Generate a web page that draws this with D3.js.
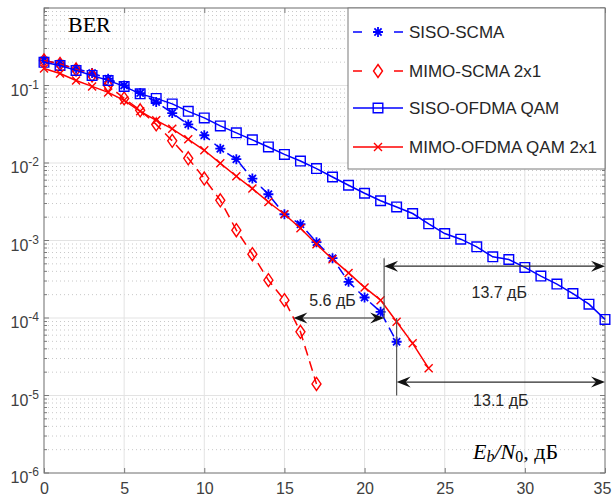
<!DOCTYPE html>
<html>
<head>
<meta charset="utf-8">
<script src="https://cdn.jsdelivr.net/npm/d3@7"></script>
<style>
body { margin: 0; background: #fff; }
</style>
</head>
<body>
<div id="visual" style="width:612px;height:500px"></div>
<script>
// Eb/N0 grid, dB
var snr = [0, 1, 2, 3, 4, 5, 6, 7, 8, 9, 10, 11, 12, 13, 14, 15, 16, 17, 18, 19,
    20, 21, 22, 23, 24, 25, 26, 27, 28, 29, 30, 31, 32, 33, 34, 35];

var berSisoScma = [0.211, 0.191, 0.1645, 0.1445, 0.1224, 0.1003, 0.0798, 0.0611, 0.0441, 0.0315,
    0.0228, 0.0153, 0.0112, 0.0063, 0.00395, 0.00218, 0.00162, 0.000951, 0.000591, 0.000293,
    0.000184, 0.00012, 0.0000494];
var berMimoScma = [0.211, 0.19, 0.161, 0.135, 0.100, 0.0682, 0.0478, 0.0315, 0.0193, 0.0115,
    0.0063, 0.0033, 0.00136, 0.000666, 0.000308, 0.00017, 0.0000664, 0.0000141];
var berSisoOfdma = [0.199, 0.1815, 0.1567, 0.1349, 0.1164, 0.0973, 0.078, 0.0682, 0.0579, 0.0464,
    0.0382, 0.0301, 0.0245, 0.0199, 0.0161, 0.0129, 0.0106, 0.00847, 0.0066, 0.00516,
    0.00407, 0.00326, 0.00271, 0.00223, 0.00164, 0.00123, 0.00104, 0.000828, 0.000615, 0.000569,
    0.000449, 0.000347, 0.000274, 0.000207, 0.000151, 0.0000959];
var berMimoOfdma = [0.166, 0.143, 0.116, 0.0973, 0.0815, 0.0643, 0.0464, 0.0355, 0.0276, 0.0202,
    0.0146, 0.0099, 0.00674, 0.00468, 0.00314, 0.00218, 0.00144, 0.000896, 0.000574, 0.000382,
    0.000248, 0.00017, 0.0000893, 0.0000471, 0.0000224];

var seriesNames = ['SISO-SCMA', 'MIMO-SCMA 2x1', 'SISO-OFDMA QAM', 'MIMO-OFDMA QAM 2x1'];

var xTicks = [0, 5, 10, 15, 20, 25, 30, 35];
var yTickExp = [-6, -5, -4, -3, -2, -1, 0];

// gap annotations (dB span at a given BER)
var gapLabels = ['5.6 дБ', '13.7 дБ', '13.1 дБ'];
var gapFrom = [15.56, 21.22, 22.0];
var gapTo = [21.22, 35, 35];
var gapBer = [1e-4, 4.67e-4, 1.49e-5];
var gapLabelX = [18.0, 28.4, 28.5];
var gapLabelBer = [1.7e-4, 2.16e-4, 8.75e-6];
var markX = [21.22, 22.0];
var markTop = [5.9e-4, 1e-4];
var markBottom = [1e-4, 1e-5];

var W = 612, H = 500;
var margin = { top: 8, right: 7, bottom: 27, left: 44 };
var width = W - margin.left - margin.right;
var height = H - margin.top - margin.bottom;

var svg = d3.select('#visual')
    .append('svg')
    .attr('width', W)
    .attr('height', H)
    .append('g')
    .attr('transform', 'translate(' + margin.left + ',' + margin.top + ')');

var x_scale = d3.scaleLinear().domain([0, 35]).range([0, width]);
var y_scale = d3.scaleLog().domain([1e-6, 1]).range([height, 0]);

var minorVals = [];
yTickExp.slice(0, -1).forEach(function (e) {
    for (var k = 2; k <= 9; k++) minorVals.push(k * Math.pow(10, e));
});
var majorVals = yTickExp.map(function (e) { return Math.pow(10, e); });

// grid
svg.append('g').selectAll('line').data(minorVals).enter().append('line')
    .attr('x1', 0).attr('x2', width)
    .attr('y1', function (d) { return y_scale(d); })
    .attr('y2', function (d) { return y_scale(d); })
    .attr('stroke', '#c8c8c8').attr('stroke-width', 1)
    .attr('stroke-dasharray', '1,3');
svg.append('g').selectAll('line').data(majorVals).enter().append('line')
    .attr('x1', 0).attr('x2', width)
    .attr('y1', function (d) { return y_scale(d); })
    .attr('y2', function (d) { return y_scale(d); })
    .attr('stroke', '#e3e3e3').attr('stroke-width', 1);
svg.append('g').selectAll('line').data(xTicks).enter().append('line')
    .attr('y1', 0).attr('y2', height)
    .attr('x1', function (d) { return x_scale(d); })
    .attr('x2', function (d) { return x_scale(d); })
    .attr('stroke', '#e3e3e3').attr('stroke-width', 1);

// axes, ticks pointing inward on all four sides
var axisCol = '#7a7a7a';
var x_axis = d3.axisBottom(x_scale).tickValues(xTicks).tickSize(-5).tickPadding(10)
    .tickFormat(d3.format('d'));
var gx = svg.append('g').attr('transform', 'translate(0,' + height + ')').call(x_axis);
gx.select('.domain').remove();
gx.selectAll('line').attr('stroke', axisCol);
gx.selectAll('text').attr('font-family', 'Liberation Sans, Arial, sans-serif')
    .attr('font-size', '16px').attr('fill', '#404040')
    .attr('dx', function (d) { return d === 35 ? -3 : 0; });

var gxt = svg.append('g').call(d3.axisTop(x_scale).tickValues(xTicks).tickSize(-5).tickFormat(''));
gxt.select('.domain').remove();
gxt.selectAll('line').attr('stroke', axisCol);

[0, width].forEach(function (xp, side) {
    var dir = side === 0 ? 1 : -1;
    var g = svg.append('g');
    g.selectAll('.mn').data(minorVals).enter().append('line')
        .attr('x1', xp).attr('x2', xp + dir * 3)
        .attr('y1', function (d) { return y_scale(d); })
        .attr('y2', function (d) { return y_scale(d); })
        .attr('stroke', axisCol);
    g.selectAll('.mj').data(majorVals).enter().append('line')
        .attr('x1', xp).attr('x2', xp + dir * 5)
        .attr('y1', function (d) { return y_scale(d); })
        .attr('y2', function (d) { return y_scale(d); })
        .attr('stroke', axisCol);
});

// y tick labels 10^e
var ylab = svg.append('g').selectAll('text').data(yTickExp.slice(0, -1)).enter().append('text')
    .attr('x', -5)
    .attr('y', function (d) { return y_scale(Math.pow(10, d)) + 10; })
    .attr('text-anchor', 'end')
    .attr('font-family', 'Liberation Sans, Arial, sans-serif')
    .attr('font-size', '16px')
    .attr('fill', '#404040');
ylab.append('tspan').text('10');
ylab.append('tspan').attr('dy', -7).attr('font-size', '12px').text(function (d) { return d; });

svg.append('rect').attr('width', width).attr('height', height)
    .attr('fill', 'none').attr('stroke', axisCol).attr('stroke-width', 1);

// curves
var series = [
    { name: seriesNames[0], ber: berSisoScma, color: '#0000ff', dash: '10,6', mark: 'star' },
    { name: seriesNames[1], ber: berMimoScma, color: '#ff0000', dash: '10,6', mark: 'diamond' },
    { name: seriesNames[2], ber: berSisoOfdma, color: '#0000ff', dash: null, mark: 'square' },
    { name: seriesNames[3], ber: berMimoOfdma, color: '#ff0000', dash: null, mark: 'cross' }
];

var line = d3.line()
    .x(function (d) { return x_scale(d[0]); })
    .y(function (d) { return y_scale(d[1]); });

function markerPath(type) {
    if (type === 'star') return 'M-5,0H5M0,-5V5M-3.6,-3.6L3.6,3.6M-3.6,3.6L3.6,-3.6';
    if (type === 'diamond') return 'M0,-6.5L4.5,0L0,6.5L-4.5,0Z';
    if (type === 'square') return 'M-4.8,-4.8H4.8V4.8H-4.8Z';
    return 'M-4,-4L4,4M-4,4L4,-4';
}

series.forEach(function (s) {
    var pts = s.ber.map(function (v, i) { return [snr[i], v]; });
    var g = svg.append('g');
    g.append('path').datum(pts)
        .attr('d', line)
        .attr('fill', 'none')
        .attr('stroke', s.color)
        .attr('stroke-width', 1.5)
        .attr('stroke-dasharray', s.dash);
    g.selectAll('path.m').data(pts).enter().append('path')
        .attr('class', 'm')
        .attr('transform', function (d) { return 'translate(' + x_scale(d[0]) + ',' + y_scale(d[1]) + ')'; })
        .attr('d', markerPath(s.mark))
        .attr('fill', 'none')
        .attr('stroke', s.color)
        .attr('stroke-width', s.mark === 'star' ? 1.8 : 1.4);
});

// annotations
var annCol = '#2b2b2b';
markX.forEach(function (mx, i) {
    svg.append('line')
        .attr('x1', x_scale(mx)).attr('x2', x_scale(mx))
        .attr('y1', y_scale(markTop[i])).attr('y2', y_scale(markBottom[i]))
        .attr('stroke', '#555').attr('stroke-width', 1.2);
});

function arrowHead(xp, yp, dir) {
    svg.append('path')
        .attr('d', 'M0,0L-14,-5.5L-9,0L-14,5.5Z')
        .attr('transform', 'translate(' + xp + ',' + yp + ') scale(' + dir + ',1)')
        .attr('fill', '#111');
}

gapLabels.forEach(function (lbl, i) {
    var y = y_scale(gapBer[i]);
    var x1 = x_scale(gapFrom[i]), x2 = x_scale(gapTo[i]);
    svg.append('line')
        .attr('x1', x1 + 6).attr('x2', x2 - 6)
        .attr('y1', y).attr('y2', y)
        .attr('stroke', annCol).attr('stroke-width', 1.2);
    arrowHead(x1, y, -1);
    arrowHead(x2, y, 1);
    svg.append('text')
        .attr('x', x_scale(gapLabelX[i]))
        .attr('y', y_scale(gapLabelBer[i]))
        .attr('dy', '0.35em')
        .attr('text-anchor', 'middle')
        .attr('font-family', 'Liberation Sans, Arial, sans-serif')
        .attr('font-size', '16px')
        .attr('fill', '#262626')
        .text(lbl);
});

// BER and axis label
svg.append('text')
    .attr('x', 68 - margin.left).attr('y', 32 - margin.top)
    .attr('font-family', 'Liberation Serif, Times New Roman, serif')
    .attr('font-size', '22px').attr('fill', '#000')
    .text('BER');

var xl = svg.append('text')
    .attr('x', 473 - margin.left).attr('y', 459 - margin.top)
    .attr('font-family', 'Liberation Serif, Times New Roman, serif')
    .attr('font-size', '22px').attr('fill', '#000');
xl.append('tspan').attr('font-style', 'italic').text('E');
xl.append('tspan').attr('font-style', 'italic').attr('font-size', '16px').attr('dy', 3).text('b');
xl.append('tspan').attr('font-style', 'italic').attr('dy', -3).text('/N');
xl.append('tspan').attr('font-size', '16px').attr('dy', 3).text('0');
xl.append('tspan').attr('dy', -3).text(', дБ');

// legend
var leg = svg.append('g').attr('transform', 'translate(' + (348 - margin.left) + ',0)');
leg.append('rect')
    .attr('width', width - (348 - margin.left)).attr('height', 169 - margin.top)
    .attr('fill', '#fff').attr('stroke', axisCol).attr('stroke-width', 1);
var rowY = [32, 71, 108, 147];
series.forEach(function (s, i) {
    var y = rowY[i] - margin.top;
    var g = leg.append('g').attr('transform', 'translate(0,' + y + ')');
    if (s.dash) {
        g.append('line').attr('x1', 5).attr('x2', 14).attr('y1', 0).attr('y2', 0)
            .attr('stroke', s.color).attr('stroke-width', 1.5);
        g.append('line').attr('x1', 46).attr('x2', 55).attr('y1', 0).attr('y2', 0)
            .attr('stroke', s.color).attr('stroke-width', 1.5);
    } else {
        g.append('line').attr('x1', 5).attr('x2', 55).attr('y1', 0).attr('y2', 0)
            .attr('stroke', s.color).attr('stroke-width', 1.5);
    }
    g.append('path').attr('transform', 'translate(30,0)')
        .attr('d', markerPath(s.mark))
        .attr('fill', 'none').attr('stroke', s.color)
        .attr('stroke-width', s.mark === 'star' ? 1.8 : 1.4);
    g.append('text').attr('x', 61).attr('dy', '0.35em')
        .attr('font-family', 'Liberation Sans, Arial, sans-serif')
        .attr('font-size', '17px').attr('fill', '#262626')
        .text(s.name);
});
</script>
</body>
</html>
